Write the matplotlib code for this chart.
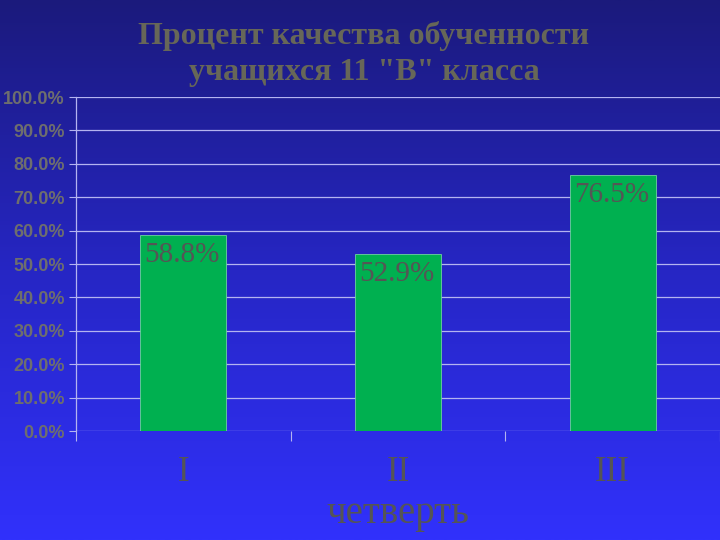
import matplotlib
matplotlib.use("Agg")
import matplotlib.pyplot as plt
import numpy as np
from matplotlib.colors import LinearSegmentedColormap

categories = ["I", "II", "III"]
values = [58.8, 52.9, 76.5]
labels = ["58.8%", "52.9%", "76.5%"]
yticks = [0, 10, 20, 30, 40, 50, 60, 70, 80, 90, 100]
title = "Процент качества обученности\nучащихся 11 \"В\" класса"
xlabel = "четверть"

fig = plt.figure(figsize=(7.2, 5.4), dpi=100)

# gradient background
bg = fig.add_axes([0, 0, 1, 1], zorder=-10)
cmap = LinearSegmentedColormap.from_list("bg", ["#1b1a7c", "#2626c4", "#3131fc"])
grad = np.linspace(0, 1, 256).reshape(-1, 1)
bg.imshow(grad, aspect="auto", cmap=cmap, extent=[0, 1, 0, 1], origin="upper")
bg.set_axis_off()

ax = fig.add_axes([76/720, 1-431/540, 644/720, 334/540])
ax.patch.set_alpha(0)
x = np.arange(len(categories))
bars = ax.bar(x, values, width=0.4, color="#00b050", edgecolor="#6fd0a0", linewidth=0.6, zorder=3)
ax.set_xlim(-0.5, 2.5)
ax.set_ylim(0, 100)
ax.set_yticks(yticks)
ax.set_yticklabels([f"{t:.1f}%" for t in yticks])
ax.yaxis.grid(True, color="#b4b4f0", linewidth=0.9, zorder=1)
ax.set_axisbelow(True)
ax.set_xticks([-0.5, 0.5, 1.5, 2.5])
ax.set_xticklabels([])
ax.set_xticks(x, minor=True)
ax.set_xticklabels(categories, minor=True, fontsize=25, family="Liberation Serif", color="#555555")
ax.tick_params(axis="x", which="minor", length=0, pad=18)
ax.tick_params(axis="x", which="major", length=7, color="#b4b4f0", direction="out")
ax.tick_params(axis="y", length=5, color="#b4b4f0", pad=3, labelsize=13, labelcolor="#6e6e6e")
for lab in ax.get_yticklabels():
    lab.set_fontweight("bold")
    lab.set_family("Liberation Sans")
for s in ["top", "right", "bottom"]:
    ax.spines[s].set_visible(False)
ax.spines["left"].set_color("#b4b4f0")
ax.spines["left"].set_linewidth(0.9)

for xi, v, lab in zip(x, values, labels):
    ax.annotate(lab, xy=(xi - 0.2, v), xytext=(3, -5), textcoords="offset points",
                ha="left", va="top", fontsize=21, family="Liberation Serif",
                color="#555555", zorder=4)

ax.set_xlabel(xlabel, fontsize=28, family="Liberation Serif", color="#555555", labelpad=4)

fig.text(364/720, 1-54/540, title, ha="center", va="center", fontsize=23,
         family="Liberation Serif", fontweight="bold", color="#676758", linespacing=1.35)

fig.savefig("out.png", dpi=100)
